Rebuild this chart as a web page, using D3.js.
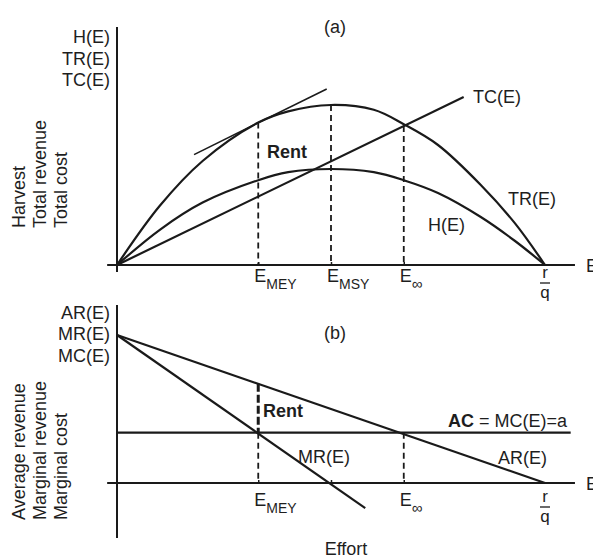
<!DOCTYPE html>
<html>
<head>
<meta charset="utf-8">
<script src="https://cdn.jsdelivr.net/npm/d3@7"></script>
<style>
  body { margin: 0; background: #fff; }
  svg text { font-family: "Liberation Sans", Arial, Helvetica, sans-serif; fill: #1e1e1e; }
</style>
</head>
<body>
<div id="svgContainer"></div>
<script>
// effort positions of the marked points (r/q = 100)
const effortMarks = [
    {key: "MEY", e: 33, label: "E", sub: "MEY"},
    {key: "MSY", e: 50, label: "E", sub: "MSY"},
    {key: "INF", e: 67, label: "E", sub: "\u221E"}]
const rOverQ = 100

// panel (a) curves [effort, value]
const trPoints = [[0,0],[10,37],[20,65],[33,89],[40,96],[50,100],[60,97],[67,88],[75,75],[85,50],[93,26],[100,0]]
const hPoints = [[0,0],[10,22],[20,39],[33,53],[40,58],[50,60],[60,58],[67,53],[75,45],[85,30],[93,15],[100,0]]
const tcPoints = [[0,0],[81,105]]
const tangentPoints = [[18,69],[49,110]]

// panel (b) lines
const arPoints = [[0,100],[100,0]]
const mrPoints = [[0,100],[58,-17]]
const acLevel = 34
const acPoints = [[0,acLevel],[106,acLevel]]

const axisLabelsA = ["H(E)", "TR(E)", "TC(E)"]
const axisTitlesA = ["Harvest", "Total revenue", "Total cost"]
const axisLabelsB = ["AR(E)", "MR(E)", "MC(E)"]
const axisTitlesB = ["Average revenue", "Marginal revenue", "Marginal cost"]

function draw() {
    let svg = d3.select("#svgContainer").append("svg")
        .attr("width", 593).attr("height", 558)

    let ink = "#1a1a1a"
    let x = d3.scaleLinear().domain([0, 100]).range([117, 545])
    let yA = d3.scaleLinear().domain([0, 100]).range([265, 105])
    let yB = d3.scaleLinear().domain([0, 100]).range([483, 335])

    let drawPanel = function(g, y, yTop, yBottom, labels, firstLabelY, titles, titleBottom, panelName, panelY) {
        // vertical axis
        g.append("line").attr("x1", x(0)).attr("x2", x(0))
            .attr("y1", yTop).attr("y2", yBottom)
            .attr("stroke", ink).attr("stroke-width", 2)
        // horizontal axis
        g.append("line").attr("x1", x(-2.3)).attr("x2", x(107))
            .attr("y1", y(0)).attr("y2", y(0))
            .attr("stroke", ink).attr("stroke-width", 2)
        // small ticks
        let ax = d3.axisBottom(x).tickValues(effortMarks.map(d => d.e)).tickSize(-3).tickSizeOuter(0).tickFormat("")
        let axG = g.append("g").attr("transform", `translate(0, ${y(0)})`).call(ax)
        axG.select(".domain").remove()
        axG.selectAll(".tick line").attr("stroke", ink).attr("stroke-width", 1.5)

        g.selectAll("text.ylab").data(labels).enter().append("text")
            .attr("class", "ylab")
            .attr("x", 110).attr("y", (d, i) => firstLabelY + i * 21.5)
            .attr("text-anchor", "end").attr("font-size", 18)
            .text(d => d)
        g.selectAll("text.ytitle").data(titles).enter().append("text")
            .attr("class", "ytitle")
            .attr("transform", (d, i) => `translate(${25 + i * 21}, ${titleBottom}) rotate(-90)`)
            .attr("font-size", 18)
            .text(d => d)
        g.append("text").attr("x", 335).attr("y", panelY)
            .attr("text-anchor", "middle").attr("font-size", 18).text(panelName)
        g.append("text").attr("x", 586).attr("y", y(0) + 7)
            .attr("font-size", 18).text("E")
    }

    let gA = svg.append("g")
    let gB = svg.append("g")
    drawPanel(gA, yA, 27, 272, axisLabelsA, 43, axisTitlesA, 228, "(a)", 33)
    drawPanel(gB, yB, 305, 538, axisLabelsB, 318.5, axisTitlesB, 520, "(b)", 339)

    let line = function(y, curve) {
        return d3.line().curve(curve || d3.curveLinear).x(d => x(d[0])).y(d => y(d[1]))
    }
    let path = function(g, pts, y, curve, w) {
        g.append("path").attr("d", line(y, curve)(pts))
            .attr("fill", "none").attr("stroke", ink).attr("stroke-width", w || 2)
    }

    // ---- panel (a)
    let valueAt = function(pts, e) {
        let yv = d3.scaleLinear().domain(pts.map(d => d[0])).range(pts.map(d => d[1]))
        return yv(e)
    }
    effortMarks.forEach(m => {
        let top = m.key == "INF" ? valueAt(tcPoints, m.e) : valueAt(trPoints, m.e)
        gA.append("line").attr("x1", x(m.e)).attr("x2", x(m.e))
            .attr("y1", yA(top)).attr("y2", yA(0))
            .attr("stroke", ink).attr("stroke-width", 1.8).attr("stroke-dasharray", "6,4")
    })
    path(gA, trPoints, yA, d3.curveCatmullRom, 2.2)
    path(gA, hPoints, yA, d3.curveCatmullRom, 2.2)
    path(gA, tcPoints, yA, null, 2.2)
    path(gA, tangentPoints, yA, null, 1.6)

    gA.append("text").attr("x", 267).attr("y", 158).attr("font-size", 18)
        .attr("font-weight", "bold").text("Rent")
    gA.append("text").attr("x", 473).attr("y", 103).attr("font-size", 18).text("TC(E)")
    gA.append("text").attr("x", 508).attr("y", 205).attr("font-size", 18).text("TR(E)")
    gA.append("text").attr("x", 428).attr("y", 231).attr("font-size", 18).text("H(E)")

    // effort tick labels
    let effortLabels = function(g, marks, baseY) {
        let t = g.selectAll("text.elab").data(marks).enter().append("text")
            .attr("class", "elab")
            .attr("x", d => x(d.e) - 4).attr("y", baseY)
            .attr("font-size", 18)
        t.append("tspan").text(d => d.label)
        t.append("tspan").attr("dy", 7).attr("font-size", d => d.key == "INF" ? 15 : 14)
            .text(d => d.sub)
        let f = g.append("g").attr("transform", `translate(${x(rOverQ)}, ${baseY})`)
        f.append("text").attr("text-anchor", "middle").attr("y", -4).attr("font-size", 17).text("r")
        f.append("line").attr("x1", -5).attr("x2", 5).attr("y1", 1).attr("y2", 1)
            .attr("stroke", ink).attr("stroke-width", 1.3)
        f.append("text").attr("text-anchor", "middle").attr("y", 16).attr("font-size", 17).text("q")
    }
    effortLabels(gA, effortMarks, 282)

    // ---- panel (b)
    let mey = effortMarks[0], inf = effortMarks[2]
    gB.append("line").attr("x1", x(mey.e)).attr("x2", x(mey.e))
        .attr("y1", yB(valueAt(arPoints, mey.e))).attr("y2", yB(acLevel))
        .attr("stroke", ink).attr("stroke-width", 3).attr("stroke-dasharray", "8,3")
    gB.append("line").attr("x1", x(mey.e)).attr("x2", x(mey.e))
        .attr("y1", yB(acLevel)).attr("y2", yB(0))
        .attr("stroke", ink).attr("stroke-width", 1.8).attr("stroke-dasharray", "6,4")
    gB.append("line").attr("x1", x(inf.e)).attr("x2", x(inf.e))
        .attr("y1", yB(acLevel)).attr("y2", yB(0))
        .attr("stroke", ink).attr("stroke-width", 1.8).attr("stroke-dasharray", "6,4")

    path(gB, arPoints, yB, null, 2.2)
    path(gB, mrPoints, yB, null, 2.2)
    path(gB, acPoints, yB, null, 2.2)

    gB.append("text").attr("x", 263).attr("y", 417).attr("font-size", 18)
        .attr("font-weight", "bold").text("Rent")
    let ac = gB.append("text").attr("x", 448).attr("y", 427).attr("font-size", 18)
    ac.append("tspan").attr("font-weight", "bold").text("AC")
    ac.append("tspan").text(" = MC(E)=a")
    gB.append("text").attr("x", 298).attr("y", 463).attr("font-size", 18).text("MR(E)")
    gB.append("text").attr("x", 498).attr("y", 464).attr("font-size", 18).text("AR(E)")

    effortLabels(gB, [mey, inf], 506)
    gB.append("text").attr("x", 346).attr("y", 555).attr("text-anchor", "middle")
        .attr("font-size", 18).text("Effort")
}

draw()
</script>
</body>
</html>
